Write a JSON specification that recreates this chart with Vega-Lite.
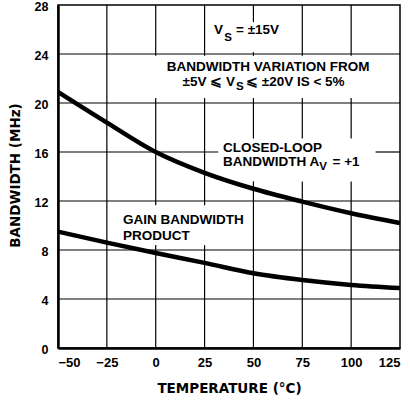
{
  "$schema": "https://vega.github.io/schema/vega-lite/v6.json",
  "autosize": "none",
  "width": 342,
  "height": 343,
  "padding": {"left": 58, "top": 5, "right": 10, "bottom": 52},
  "background": "white",
  "config": {
    "view": {"stroke": "black", "strokeWidth": 1.5},
    "font": "Liberation Sans"
  },
  "datasets": {
    "vGrid": [
      {"gx": -25, "s1": 0, "s2": 28},
      {"gx": 0, "s1": 0, "s2": 8.4},
      {"gx": 0, "s1": 11.65, "s2": 20.4},
      {"gx": 0, "s1": 23.85, "s2": 28},
      {"gx": 25, "s1": 0, "s2": 8.4},
      {"gx": 25, "s1": 11.65, "s2": 20.4},
      {"gx": 25, "s1": 23.85, "s2": 28},
      {"gx": 50, "s1": 0, "s2": 13.6},
      {"gx": 50, "s1": 17.1, "s2": 20.4},
      {"gx": 50, "s1": 23.85, "s2": 24.15},
      {"gx": 50, "s1": 26.6, "s2": 28},
      {"gx": 75, "s1": 0, "s2": 13.6},
      {"gx": 75, "s1": 17.1, "s2": 20.4},
      {"gx": 75, "s1": 23.85, "s2": 28},
      {"gx": 100, "s1": 0, "s2": 13.6},
      {"gx": 100, "s1": 17.1, "s2": 20.4},
      {"gx": 100, "s1": 23.85, "s2": 28}
    ],
    "hGrid": [
      {"gy": 4, "s1": -50, "s2": 125},
      {"gy": 8, "s1": -50, "s2": 125},
      {"gy": 12, "s1": -50, "s2": 125},
      {"gy": 16, "s1": -50, "s2": 32},
      {"gy": 16, "s1": 112.5, "s2": 125},
      {"gy": 20, "s1": -50, "s2": 125},
      {"gy": 24, "s1": -50, "s2": 125}
    ],
    "curves": [
      {"temp": -50, "bw": 20.9, "series": "closed"},
      {"temp": -25, "bw": 18.4, "series": "closed"},
      {"temp": 0, "bw": 16.0, "series": "closed"},
      {"temp": 25, "bw": 14.3, "series": "closed"},
      {"temp": 50, "bw": 13.0, "series": "closed"},
      {"temp": 75, "bw": 11.95, "series": "closed"},
      {"temp": 100, "bw": 11.0, "series": "closed"},
      {"temp": 125, "bw": 10.2, "series": "closed"},
      {"temp": -50, "bw": 9.5, "series": "gbw"},
      {"temp": -25, "bw": 8.6, "series": "gbw"},
      {"temp": 0, "bw": 7.75, "series": "gbw"},
      {"temp": 25, "bw": 6.95, "series": "gbw"},
      {"temp": 50, "bw": 6.1, "series": "gbw"},
      {"temp": 75, "bw": 5.55, "series": "gbw"},
      {"temp": 100, "bw": 5.15, "series": "gbw"},
      {"temp": 125, "bw": 4.9, "series": "gbw"}
    ],
    "leftText": [
      {"label": "= ±15V", "tx": 41.1, "ty": 25.96},
      {"label": "⩽ ±20V IS < 5%", "tx": 46.2, "ty": 21.71},
      {"label": "CLOSED-LOOP", "tx": 34.4, "ty": 16.33},
      {"label": "BANDWIDTH A", "tx": 34.4, "ty": 15.18},
      {"label": "= +1", "tx": 90.5, "ty": 15.18},
      {"label": "GAIN BANDWIDTH", "tx": -16.7, "ty": 10.45},
      {"label": "PRODUCT", "tx": -16.7, "ty": 9.14}
    ],
    "rightText": [
      {"label": "V", "tx": 34.4, "ty": 25.96},
      {"label": "±5V ⩽ V", "tx": 40.6, "ty": 21.71}
    ],
    "centerText": [
      {"label": "BANDWIDTH VARIATION FROM", "tx": 57.5, "ty": 22.94}
    ],
    "subText": [
      {"label": "S", "tx": 37.0, "ty": 25.31},
      {"label": "S", "tx": 43.1, "ty": 21.31},
      {"label": "V", "tx": 85.6, "ty": 14.78}
    ]
  },
  "layer": [
    {
      "data": {"name": "vGrid"},
      "mark": {"type": "rule", "stroke": "#000000", "strokeWidth": 1.2},
      "encoding": {
        "x": {"field": "gx", "type": "quantitative", "scale": {"domain": [-50, 125], "nice": false},
          "axis": {"values": [-50, -25, 0, 25, 50, 75, 100, 125], "grid": false, "ticks": false, "domainColor": "black", "domainWidth": 2.5, "labelFont": "Liberation Sans", "labelFontWeight": "bold", "labelFontSize": 13, "labelColor": "black", "labelPadding": 8, "title": "TEMPERATURE (°C)", "titleFont": "DejaVu Sans", "titleFontWeight": "bold", "titleFontSize": 13.5, "titleColor": "black", "titleY": 40, "titleBaseline": "middle"}},
        "y": {"field": "s1", "type": "quantitative", "scale": {"domain": [0, 28], "nice": false},
          "axis": {"values": [0, 4, 8, 12, 16, 20, 24, 28], "grid": false, "ticks": false, "domainColor": "black", "domainWidth": 2.5, "labelFont": "Liberation Sans", "labelFontWeight": "bold", "labelFontSize": 12.5, "labelColor": "black", "labelPadding": 10, "labelOffset": 1.5, "title": "BANDWIDTH (MHz)", "titleFont": "DejaVu Sans", "titleFontWeight": "bold", "titleFontSize": 13.5, "titleColor": "black", "titleX": -43, "titleY": 170, "titleBaseline": "middle"}},
        "y2": {"field": "s2"}
      }
    },
    {
      "data": {"name": "hGrid"},
      "mark": {"type": "rule", "stroke": "#000000", "strokeWidth": 1.2},
      "encoding": {
        "y": {"field": "gy", "type": "quantitative"},
        "x": {"field": "s1", "type": "quantitative"},
        "x2": {"field": "s2"}
      }
    },
    {
      "data": {"name": "curves"},
      "mark": {"type": "line", "color": "black", "strokeWidth": 4.5, "interpolate": "monotone"},
      "encoding": {
        "x": {"field": "temp", "type": "quantitative"},
        "y": {"field": "bw", "type": "quantitative"},
        "detail": {"field": "series"}
      }
    },
    {
      "data": {"name": "leftText"},
      "mark": {"type": "text", "align": "left", "baseline": "middle", "font": "Liberation Sans", "fontWeight": "bold", "fontSize": 13.5, "color": "black"},
      "encoding": {
        "x": {"field": "tx", "type": "quantitative"},
        "y": {"field": "ty", "type": "quantitative"},
        "text": {"field": "label"}
      }
    },
    {
      "data": {"name": "rightText"},
      "mark": {"type": "text", "align": "right", "baseline": "middle", "font": "Liberation Sans", "fontWeight": "bold", "fontSize": 13.5, "color": "black"},
      "encoding": {
        "x": {"field": "tx", "type": "quantitative"},
        "y": {"field": "ty", "type": "quantitative"},
        "text": {"field": "label"}
      }
    },
    {
      "data": {"name": "centerText"},
      "mark": {"type": "text", "align": "center", "baseline": "middle", "font": "Liberation Sans", "fontWeight": "bold", "fontSize": 13.5, "color": "black"},
      "encoding": {
        "x": {"field": "tx", "type": "quantitative"},
        "y": {"field": "ty", "type": "quantitative"},
        "text": {"field": "label"}
      }
    },
    {
      "data": {"name": "subText"},
      "mark": {"type": "text", "align": "center", "baseline": "middle", "font": "Liberation Sans", "fontWeight": "bold", "fontSize": 11.5, "color": "black"},
      "encoding": {
        "x": {"field": "tx", "type": "quantitative"},
        "y": {"field": "ty", "type": "quantitative"},
        "text": {"field": "label"}
      }
    }
  ]
}
